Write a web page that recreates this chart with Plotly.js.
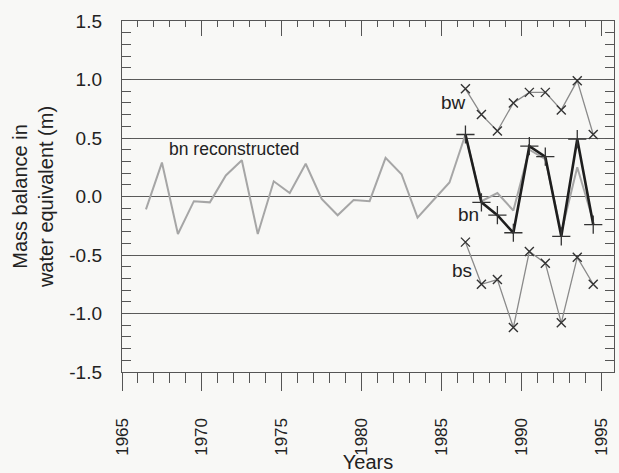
<!DOCTYPE html>
<html>
<head>
<meta charset="utf-8">
<script src="https://cdn.plot.ly/plotly-3.0.1.min.js"></script>
<style>html,body{margin:0;padding:0;background:#f8f8f6;}</style>
</head>
<body>
<div id="chart" style="width:619px;height:473px;"></div>
<script>
// Hydrological years (plotted at mid-year)
const reconYears = [1966.5, 1967.5, 1968.5, 1969.5, 1970.5, 1971.5, 1972.5, 1973.5, 1974.5, 1975.5,
                    1976.5, 1977.5, 1978.5, 1979.5, 1980.5, 1981.5, 1982.5, 1983.5, 1984.5, 1985.5,
                    1986.5, 1987.5, 1988.5, 1989.5, 1990.5, 1991.5, 1992.5, 1993.5, 1994.5];
const bnReconstructed = [-0.11, 0.29, -0.32, -0.04, -0.05, 0.18, 0.31, -0.32, 0.13, 0.03,
                         0.28, -0.02, -0.16, -0.03, -0.04, 0.33, 0.19, -0.18, -0.03, 0.12,
                         0.53, -0.04, 0.03, -0.12, 0.40, 0.32, -0.31, 0.25, -0.21];
const obsYears = [1986.5, 1987.5, 1988.5, 1989.5, 1990.5, 1991.5, 1992.5, 1993.5, 1994.5];
const bw = [0.92, 0.70, 0.56, 0.80, 0.89, 0.89, 0.74, 0.99, 0.53];
const bn = [0.53, -0.05, -0.16, -0.31, 0.43, 0.34, -0.34, 0.49, -0.24];
const bs = [-0.39, -0.75, -0.71, -1.12, -0.47, -0.57, -1.08, -0.52, -0.75];

const yTickVals = [-1.5, -1.0, -0.5, 0.0, 0.5, 1.0, 1.5];
const yTickText = ["-1.5", "-1.0", "-0.5", "0.0", "0.5", "1.0", "1.5"];
const xTickVals = [1965, 1970, 1975, 1980, 1985, 1990, 1995];
const xTickText = ["1965", "1970", "1975", "1980", "1985", "1990", "1995"];

const FONT = "Liberation Sans, Arial, Helvetica, sans-serif";
const AX = "#555";

const traces = [
  {x: reconYears, y: bnReconstructed, type: "scatter", mode: "lines", name: "bn reconstructed",
   line: {color: "#a6a6a6", width: 2}},
  {x: obsYears, y: bw, type: "scatter", mode: "lines+markers", name: "bw", xaxis: "x2",
   line: {color: "#8a8a8a", width: 1.3},
   marker: {symbol: "x-thin-open", size: 9, line: {color: "#333", width: 1.4}, color: "#333"}},
  {x: obsYears, y: bs, type: "scatter", mode: "lines+markers", name: "bs",
   line: {color: "#8a8a8a", width: 1.3},
   marker: {symbol: "x-thin-open", size: 9, line: {color: "#333", width: 1.4}, color: "#333"}},
  {x: obsYears, y: bn, type: "scatter", mode: "lines+markers", name: "bn",
   line: {color: "#1e1e1e", width: 2.6},
   marker: {symbol: "cross-thin-open", size: 13, line: {color: "#333", width: 1.3}, color: "#333"}}
];

const layout = {
  width: 619, height: 473,
  margin: {l: 122, r: 5, t: 21, b: 101},
  paper_bgcolor: "#f8f8f6", plot_bgcolor: "#f8f8f6",
  showlegend: false,
  font: {family: FONT, size: 18, color: "#222"},
  xaxis: {
    range: [1965, 1995.8], tickvals: xTickVals, ticktext: xTickText, tickangle: -90,
    ticks: "outside", ticklen: 18, tickwidth: 1, tickcolor: AX,
    minor: {dtick: 1, tick0: 1965, ticks: "outside", ticklen: 10, tickcolor: AX, showgrid: false},
    showline: true, linecolor: AX, linewidth: 1.2, mirror: false,
    showgrid: false, zeroline: false, ticklabelstandoff: 20,
    tickfont: {size: 17},
    title: {text: "Years", font: {size: 20}, standoff: 0}
  },
  xaxis2: {
    overlaying: "x", side: "top", matches: "x", range: [1965, 1995.8],
    tickvals: xTickVals, showticklabels: false,
    ticks: "inside", ticklen: 15, tickcolor: AX,
    minor: {dtick: 1, tick0: 1965, ticks: "inside", ticklen: 6, tickcolor: AX, showgrid: false},
    showline: true, linecolor: AX, linewidth: 1.2, showgrid: false, zeroline: false
  },
  yaxis: {
    range: [-1.5, 1.5], tickvals: yTickVals, ticktext: yTickText,
    ticks: "inside", ticklen: 9, tickcolor: AX,
    minor: {dtick: 0.1, tick0: 0, ticks: "inside", ticklen: 9, tickcolor: AX, showgrid: false},
    showline: true, linecolor: AX, linewidth: 1.2, mirror: "ticks",
    showgrid: true, gridcolor: "#5a5a5a", gridwidth: 1, zeroline: false,
    ticklabelstandoff: 15, tickfont: {size: 19},
    title: {text: "Mass balance in<br>water equivalent (m)", font: {size: 20}, standoff: 10}
  },
  annotations: [
    {x: 1972.0, y: 0.41, text: "bn reconstructed", showarrow: false, font: {size: 17.5}},
    {x: 1985.75, y: 0.80, text: "bw", showarrow: false, font: {size: 19}},
    {x: 1986.7, y: -0.15, text: "bn", showarrow: false, font: {size: 19}},
    {x: 1986.3, y: -0.63, text: "bs", showarrow: false, font: {size: 19}}
  ]
};

Plotly.newPlot("chart", traces, layout, {displayModeBar: false, staticPlot: true});
</script>
</body>
</html>
